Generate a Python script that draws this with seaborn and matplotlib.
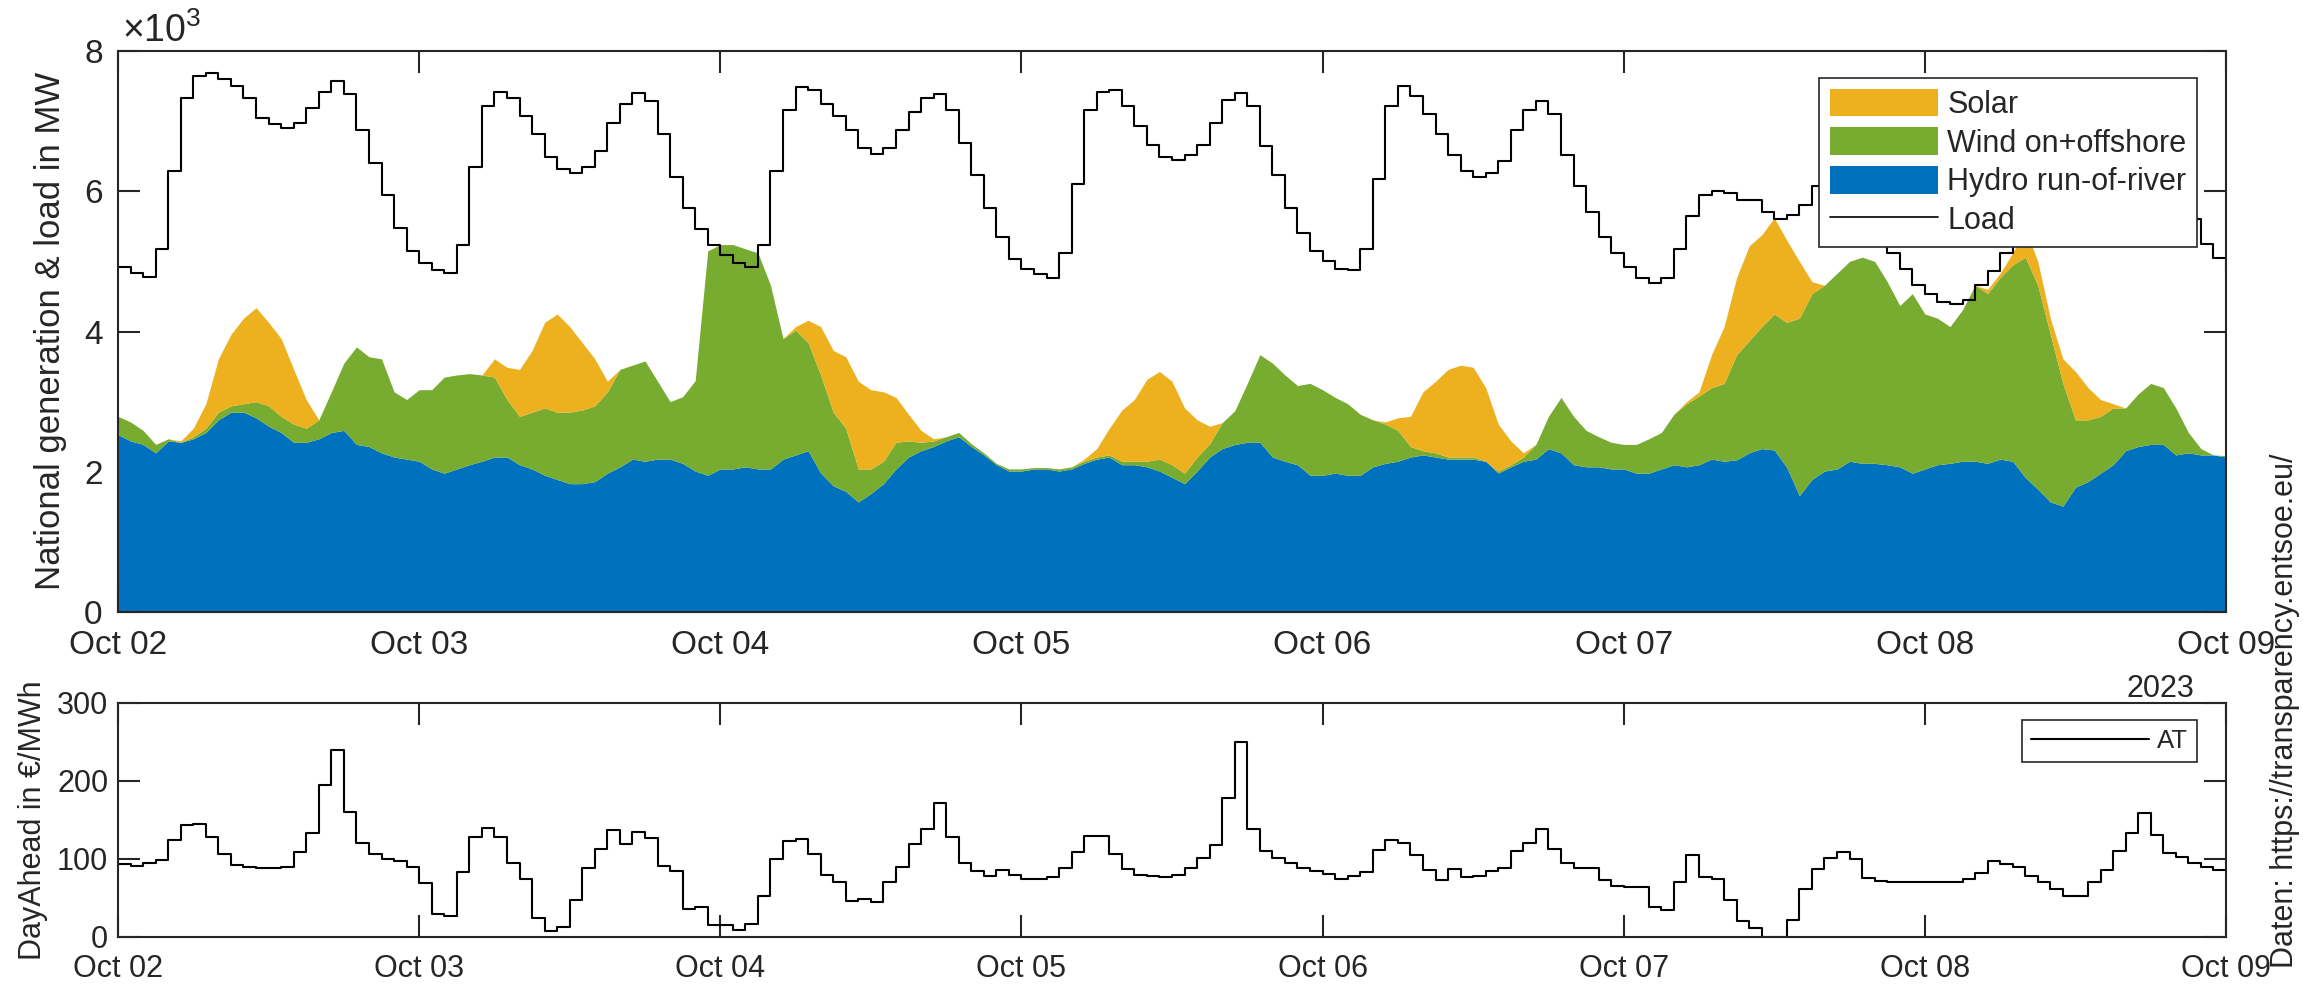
import numpy as np
import matplotlib
matplotlib.use("Agg")
import matplotlib.pyplot as plt
import seaborn as sns
from matplotlib.patches import Patch
from matplotlib.lines import Line2D

# ---------------- data (hourly, starting Oct 02 00:00) ----------------
day_labels = ["Oct 02", "Oct 03", "Oct 04", "Oct 05", "Oct 06", "Oct 07", "Oct 08", "Oct 09"]
series_names = ["Solar", "Wind on+offshore", "Hydro run-of-river", "Load"]

hydro = [2530, 2440, 2390, 2270, 2440, 2420, 2470, 2560, 2740, 2850,
         2850, 2770, 2650, 2560, 2420, 2420, 2470, 2560, 2590, 2390,
         2360, 2270, 2210, 2180, 2150, 2040, 1980, 2040, 2100, 2150,
         2210, 2210, 2100, 2040, 1950, 1890, 1830, 1830, 1860, 1980,
         2070, 2180, 2150, 2180, 2180, 2120, 2010, 1950, 2040, 2040,
         2070, 2040, 2040, 2180, 2240, 2300, 1980, 1800, 1720, 1570,
         1690, 1830, 2040, 2210, 2300, 2360, 2440, 2500, 2360, 2240,
         2100, 2010, 2010, 2040, 2040, 2010, 2040, 2120, 2180, 2210,
         2100, 2100, 2070, 2010, 1920, 1830, 2010, 2210, 2330, 2390,
         2420, 2420, 2210, 2150, 2100, 1950, 1950, 1980, 1950, 1950,
         2070, 2120, 2150, 2210, 2240, 2210, 2180, 2180, 2180, 2150,
         1980, 2070, 2150, 2180, 2330, 2270, 2100, 2070, 2070, 2040,
         2040, 1980, 1980, 2040, 2100, 2070, 2100, 2180, 2150, 2170,
         2270, 2330, 2310, 2060, 1660, 1890, 2010, 2040, 2150, 2120,
         2120, 2100, 2070, 1980, 2040, 2100, 2120, 2150, 2150, 2120,
         2180, 2150, 1920, 1750, 1570, 1510, 1780, 1860, 1980, 2100,
         2300, 2360, 2390, 2390, 2240, 2270, 2240, 2240, 2210]

wind = [260, 270, 200, 120, 30, 0, 30, 60, 110, 90,
        120, 230, 290, 230, 260, 200, 270, 580, 960, 1390,
        1280, 1340, 930, 850, 1020, 1130, 1370, 1340, 1300, 1230,
        1140, 820, 690, 810, 960, 960, 1020, 1050, 1080, 1160,
        1390, 1340, 1430, 1110, 820, 950, 1290, 3200, 3200, 3200,
        3110, 3080, 2620, 1720, 1780, 1540, 1400, 1050, 900, 470,
        350, 320, 380, 230, 120, 80, 60, 60, 40, 30,
        20, 30, 30, 20, 20, 30, 30, 30, 30, 30,
        50, 50, 80, 170, 180, 150, 200, 190, 370, 480,
        840, 1250, 1340, 1230, 1130, 1310, 1220, 1080, 1020, 870,
        670, 560, 440, 150, 60, 60, 30, 30, 30, 0,
        30, 30, 60, 210, 460, 790, 690, 520, 430, 380,
        350, 410, 490, 520, 720, 900, 980, 1020, 1110, 1500,
        1600, 1740, 1940, 2070, 2530, 2650, 2650, 2790, 2850, 2940,
        2880, 2610, 2300, 2560, 2210, 2090, 1950, 2160, 2510, 2420,
        2590, 2800, 3140, 2910, 2390, 1750, 960, 880, 810, 810,
        610, 750, 870, 810, 670, 290, 90, 0, 20]

solar = [0, 0, 0, 0, 0, 20, 120, 350, 760, 1020,
         1220, 1340, 1190, 1110, 780, 410, 0, 0, 0, 0,
         0, 0, 0, 0, 0, 0, 0, 0, 0, 0,
         260, 460, 670, 880, 1220, 1400, 1220, 960, 670, 150,
         0, 0, 0, 0, 0, 0, 0, 0, 0, 0,
         0, 0, 0, 0, 50, 320, 690, 880, 1020, 1250,
         1130, 990, 640, 380, 170, 30, 0, 0, 0, 0,
         0, 0, 0, 0, 0, 0, 0, 30, 120, 380,
         730, 880, 1170, 1250, 1190, 930, 530, 250, 0, 0,
         0, 0, 0, 0, 0, 0, 0, 0, 0, 0,
         0, 30, 180, 430, 840, 1020, 1250, 1310, 1280, 1050,
         670, 340, 60, 0, 0, 0, 0, 0, 0, 0,
         0, 0, 0, 0, 0, 30, 60, 470, 810, 1100,
         1350, 1310, 1370, 1170, 810, 170, 0, 0, 0, 0,
         0, 0, 0, 0, 0, 0, 0, 0, 0, 60,
         60, 170, 410, 340, 230, 350, 690, 460, 240, 60,
         0, 0, 0, 0, 0, 0, 0, 0, 0]

load = [4920, 4840, 4780, 5180, 6290, 7330, 7650, 7690, 7600, 7500,
        7330, 7050, 6960, 6900, 6970, 7190, 7420, 7570, 7390, 6870,
        6400, 5940, 5470, 5150, 4980, 4880, 4840, 5240, 6340, 7220,
        7420, 7330, 7070, 6810, 6490, 6320, 6260, 6340, 6580, 6980,
        7250, 7400, 7280, 6810, 6210, 5760, 5460, 5240, 5090, 4980,
        4920, 5240, 6290, 7160, 7480, 7450, 7250, 7070, 6870, 6610,
        6530, 6610, 6870, 7130, 7330, 7390, 7160, 6690, 6230, 5760,
        5350, 5030, 4890, 4820, 4770, 5120, 6110, 7160, 7420, 7450,
        7220, 6930, 6660, 6490, 6440, 6520, 6660, 6980, 7300, 7400,
        7220, 6640, 6230, 5760, 5410, 5150, 5000, 4890, 4880, 5180,
        6170, 7220, 7500, 7360, 7100, 6810, 6520, 6290, 6200, 6260,
        6430, 6870, 7160, 7280, 7100, 6520, 6080, 5700, 5350, 5120,
        4920, 4770, 4690, 4770, 5180, 5650, 5940, 6010, 5980, 5880,
        5880, 5700, 5600, 5660, 5800, 6080, 6350, 6550, 6600, 6450,
        5900, 5120, 4890, 4660, 4540, 4420, 4390, 4450, 4660, 4860,
        5120, 5600, 5900, 6000, 6050, 6000, 5900, 5800, 5750, 5850,
        6100, 6300, 6350, 6200, 5900, 5600, 5250, 5050, 4830]

price = [93, 91, 95, 99, 124, 143, 145, 128, 106, 92,
         90, 88, 88, 90, 109, 133, 195, 240, 160, 120,
         107, 100, 97, 90, 69, 29, 27, 83, 128, 140,
         128, 95, 74, 24, 8, 13, 47, 89, 113, 137,
         119, 134, 127, 91, 85, 36, 39, 16, 15, 9,
         17, 52, 100, 123, 126, 107, 79, 70, 46, 49,
         45, 70, 90, 119, 139, 172, 128, 95, 85, 78,
         86, 80, 75, 75, 77, 88, 109, 130, 129, 107,
         87, 80, 78, 77, 80, 88, 101, 118, 178, 250,
         139, 110, 101, 95, 88, 85, 81, 75, 78, 83,
         112, 125, 121, 105, 86, 73, 87, 77, 78, 85,
         88, 110, 120, 139, 113, 95, 88, 88, 73, 65,
         64, 64, 39, 35, 71, 105, 77, 74, 47, 21,
         11, 0, 0, 22, 61, 87, 101, 109, 100, 76,
         72, 70, 70, 70, 70, 70, 71, 75, 82, 97,
         93, 90, 78, 70, 62, 52, 52, 70, 86, 110,
         133, 159, 131, 108, 103, 95, 90, 86]
price_label = "AT"

# ---------------- styling ----------------
sns.set_theme(style="ticks")
plt.rcParams["font.family"] = ["Liberation Sans", "DejaVu Sans"]
plt.rcParams["mathtext.fontset"] = "custom"
plt.rcParams["mathtext.rm"] = "Liberation Sans"
plt.rcParams["mathtext.it"] = "Liberation Sans:italic"
plt.rcParams["mathtext.bf"] = "Liberation Sans:bold"

C_SOLAR, C_WIND, C_HYDRO = "#EDB120", "#77AC30", "#0072BD"
AX_COL = "#262626"

W, H = 2303, 985
fig = plt.figure(figsize=(W / 100, H / 100), dpi=100)


def rect(x0, y0, x1, y1):
    return [x0 / W, 1 - y1 / H, (x1 - x0) / W, (y1 - y0) / H]


ax1 = fig.add_axes(rect(118, 51, 2226, 612))
ax2 = fig.add_axes(rect(118, 703, 2226, 937))

hours = np.arange(len(hydro))
ax1.stackplot(hours, hydro, wind, solar, colors=[C_HYDRO, C_WIND, C_SOLAR],
              linewidth=0, antialiased=True)
sns.lineplot(x=hours, y=load, ax=ax1, color="black", linewidth=1.5,
             drawstyle="steps-post", estimator=None, legend=False)

ph = np.arange(len(price) + 1)
pv = list(price) + [price[-1]]
sns.lineplot(x=ph, y=pv, ax=ax2, color="black", linewidth=1.5,
             drawstyle="steps-post", estimator=None, legend=False)

ndays = len(day_labels)
for ax in (ax1, ax2):
    ax.set_xlim(0, 24 * (ndays - 1))
    ax.set_xticks(np.arange(ndays) * 24)
    ax.set_xticklabels(day_labels)
    ax.set_xlabel("")
    ax.set_ylabel("")
    for s in ax.spines.values():
        s.set_visible(True)
        s.set_linewidth(1.5)
        s.set_color(AX_COL)
    ax.tick_params(direction="in", length=15.5, width=1.5, color=AX_COL,
                   labelcolor=AX_COL, top=True, right=True)

ax1.set_ylim(0, 8000)
ax1.set_yticks([0, 2000, 4000, 6000, 8000])
ax1.set_yticklabels(["0", "2", "4", "6", "8"])
ax1.tick_params(axis="both", labelsize=24)
ax1.tick_params(axis="x", pad=13)
ax1.tick_params(axis="y", pad=11)

ax2.set_ylim(0, 300)
ax2.set_yticks([0, 100, 200, 300])
ax2.tick_params(axis="both", labelsize=22)
ax2.tick_params(axis="x", pad=12)
ax2.tick_params(axis="y", pad=7)

ax1.text(0.002, 1 + 9 / 561, r"$\times10^{3}$", transform=ax1.transAxes,
         fontsize=27, color=AX_COL, ha="left", va="baseline")

fig.text(51 / W, 1 - 331 / H, "National generation & load in MW", rotation=90,
         ha="center", va="center", fontsize=25, color=AX_COL)
fig.text(33 / W, 1 - 820 / H, "DayAhead in €/MWh", rotation=90,
         ha="center", va="center", fontsize=22, color=AX_COL)
fig.text(2194 / W, 1 - 704 / H, "2023", ha="right", va="bottom",
         fontsize=22, color=AX_COL)
fig.text(2293 / W, 1 - 968 / H, "Daten: https://transparency.entsoe.eu/",
         rotation=90, rotation_mode="anchor", ha="left", va="baseline",
         fontsize=22, color=AX_COL)

handles = [Patch(facecolor=C_SOLAR, edgecolor="none"),
           Patch(facecolor=C_WIND, edgecolor="none"),
           Patch(facecolor=C_HYDRO, edgecolor="none"),
           Line2D([], [], color="black", linewidth=1.2)]
leg1 = ax1.legend(handles, series_names, loc="upper right",
                  bbox_to_anchor=(2197 / W, 1 - 78 / H), bbox_transform=fig.transFigure,
                  fontsize=22, handlelength=3.55, handleheight=1.0, handletextpad=0.3,
                  labelspacing=0.25, borderpad=0.35, borderaxespad=0,
                  frameon=True, fancybox=False, framealpha=1, edgecolor=AX_COL)
leg1.get_frame().set_linewidth(1.2)

leg2 = ax2.legend([Line2D([], [], color="black", linewidth=1.5)], [price_label],
                  loc="upper right", bbox_to_anchor=(2197 / W, 1 - 720 / H),
                  bbox_transform=fig.transFigure, fontsize=18.5, handlelength=4.6,
                  handletextpad=0.3, borderpad=0.35, borderaxespad=0,
                  frameon=True, fancybox=False, framealpha=1, edgecolor=AX_COL)
leg2.get_frame().set_linewidth(1.2)

fig.savefig("out.png", dpi=100)
